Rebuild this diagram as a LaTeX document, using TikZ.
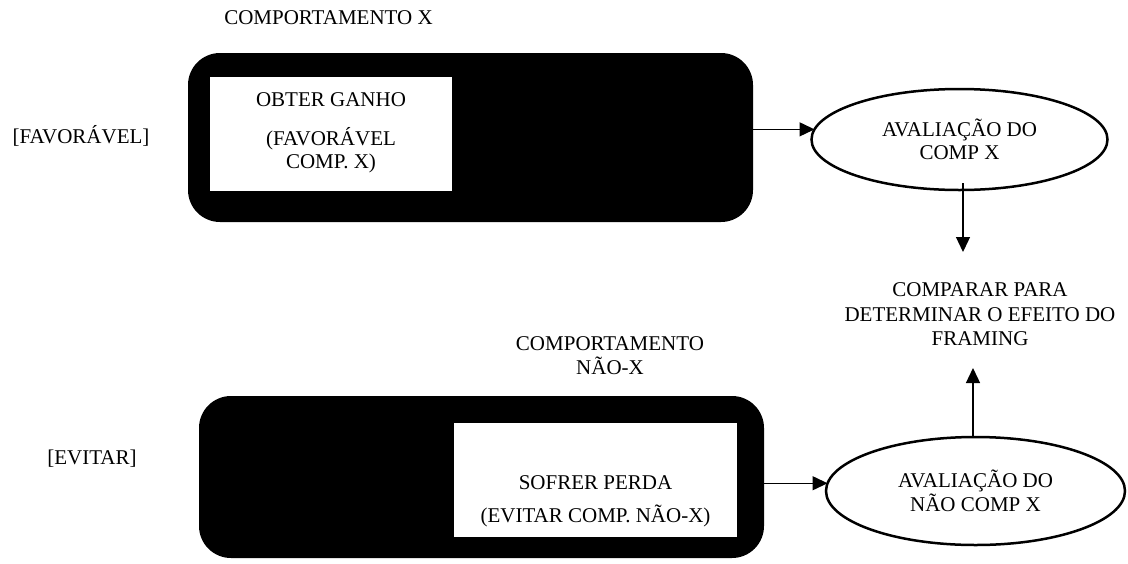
\documentclass[tikz,border=0pt]{standalone}
\usepackage{fontspec}
\setmainfont{Liberation Serif}
\usetikzlibrary{arrows.meta,shapes.geometric}
\begin{document}
\begin{tikzpicture}[x=1pt,y=-1pt,
  every node/.style={font=\fontsize{21}{23.4}\selectfont, inner sep=0pt, outer sep=0pt},
  blackbox/.style={fill=black, draw=none, rounded corners=32pt},
  whitebox/.style={fill=white, draw=none},
  txt/.style={anchor=base, align=center},
  oval/.style={ellipse, draw=black, line width=2.5pt, fill=white, align=center},
  arr/.style={line width=1.3pt, -{Triangle[length=15pt,width=14pt]}}
]
\useasboundingbox (0,0) rectangle (1128,563);
% labels (anchor=base is the baseline of the last line)
\node[txt] (lblX) at (328.5,24.5) {COMPORTAMENTO X};
\node[txt] (fav) at (81,143) {[FAVORÁVEL]};
\node[txt] (lblNX) at (610,374) {COMPORTAMENTO\\[0.6pt]NÃO-X};
\node[txt] (ev) at (92,464) {[EVITAR]};
% top box
\node[blackbox, minimum width=565pt, minimum height=169pt] (tb) at (470.5,137.5) {};
\node[whitebox, minimum width=242pt, minimum height=114pt] (w1) at (331,134) {};
\node[txt] (t1) at (331,168.8) {OBTER GANHO\\[16pt](FAVORÁVEL\\COMP. X)};
% bottom box
\node[blackbox, minimum width=565pt, minimum height=162pt] (bb) at (481.5,477) {};
\node[whitebox, minimum width=283pt, minimum height=114pt] (w2) at (595.5,480) {};
\node[txt] (t2) at (595.5,522) {SOFRER PERDA\\[9.6pt](EVITAR COMP. NÃO-X)};
% ellipses
\node[oval, minimum width=296pt, minimum height=101pt] (e1) at (959.5,139.5) {AVALIAÇÃO DO\\COMP X};
\node[oval, minimum width=299pt, minimum height=108pt] (e2) at (975.5,491) {AVALIAÇÃO DO\\NÃO COMP X};
% compare text
\node[txt] (cmp) at (980,345.5) {COMPARAR PARA\\[1pt]DETERMINAR O EFEITO DO\\[1pt]FRAMING};
% connectors
\coordinate (d1) at (963,252);
\coordinate (u1) at (973,368);
\draw[arr] (e1.176 -| tb.east) -- (e1.176);
\draw[arr] (e2.177 -| bb.east) -- (e2.177);
\draw[arr] ([xshift=3.5pt,yshift=7pt]e1.south) -- (d1);
\draw[arr] ([xshift=-2.5pt]e2.north) -- (u1);
\end{tikzpicture}
\end{document}
